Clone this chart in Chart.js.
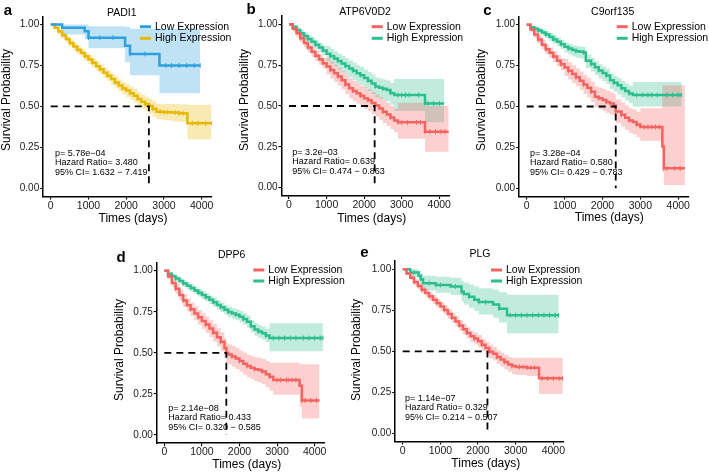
<!DOCTYPE html>
<html><head><meta charset="utf-8">
<script src="https://cdn.jsdelivr.net/npm/chart.js@4.4.0/dist/chart.umd.min.js"></script>
<style>
html,body{margin:0;padding:0;background:#fff;}
#wrap{position:relative;width:709px;height:473px;overflow:hidden;background:#fff;}
#wrap canvas{position:absolute;left:0;top:0;}
</style></head><body><div id="wrap"></div>
<script>
// ---------- tick labels / text ----------
const xTicks = [0, 1000, 2000, 3000, 4000];
const yTicks = [0, 0.25, 0.5, 0.75, 1.0];
const seriesNames = ['Low Expression', 'High Expression'];
const genes = ['PADI1', 'ATP6V0D2', 'C9orf135', 'DPP6', 'PLG'];
const letters = ['a', 'b', 'c', 'd', 'e'];
const pValues = ['5.78e\u221204', '3.2e\u221203', '3.28e\u221204', '2.14e\u221208', '1.14e\u221207'];
const hazardRatios = ['3.480', '0.639', '0.580', '0.433', '0.329'];
const ciTexts = ['1.632 \u2212 7.419', '0.474 \u2212 0.863', '0.429 \u2212 0.783', '0.320 \u2212 0.585', '0.214 \u2212 0.507'];
const medians = [2600, 2280, 2350, 1650, 2250];

// ---------- panel a: PADI1 ----------
const aLowT  = [0, 300, 900, 1000, 1970, 2100, 2880, 3960];
const aLowS  = [1.0, 0.98, 0.96, 0.92, 0.87, 0.82, 0.75, 0.75];
const aLowU  = [1.0, 1.0, 1.0, 0.99, 0.985, 0.975, 0.975, 0.975];
const aLowLo = [1.0, 0.94, 0.91, 0.855, 0.77, 0.69, 0.58, 0.58];
const aLowCenT = [1300, 1650, 2500, 3050, 3200, 3400, 3600, 3800];
const aLowCenS = [0.92, 0.92, 0.82, 0.75, 0.75, 0.75, 0.75, 0.75];
const aHighT  = [0,100,200,300,400,500,600,700,800,900,1000,1100,1200,1300,1400,1500,1600,1700,1800,1900,2000,2100,2200,2300,2400,2500,2600,2700,2800,3000,3200,3400,3620,4260];
const aHighS  = [1.0,0.98,0.957,0.935,0.912,0.888,0.866,0.846,0.826,0.806,0.787,0.767,0.746,0.727,0.705,0.688,0.667,0.646,0.628,0.61,0.597,0.58,0.565,0.545,0.528,0.515,0.503,0.485,0.468,0.465,0.462,0.458,0.397,0.397];
const aHighU  = [1.0,0.99,0.972,0.953,0.932,0.91,0.89,0.871,0.852,0.833,0.815,0.796,0.776,0.758,0.737,0.721,0.701,0.681,0.664,0.647,0.636,0.62,0.606,0.587,0.571,0.559,0.549,0.532,0.516,0.515,0.514,0.513,0.51,0.51];
const aHighLo = [1.0,0.97,0.942,0.917,0.892,0.866,0.842,0.821,0.8,0.779,0.759,0.738,0.716,0.696,0.673,0.655,0.633,0.611,0.592,0.573,0.558,0.54,0.524,0.503,0.485,0.471,0.457,0.438,0.42,0.415,0.41,0.405,0.30,0.30];
const aHighCenT = [2900, 3100, 3300, 3500, 3750, 3900, 4100];
const aHighCenS = [0.468, 0.465, 0.462, 0.458, 0.397, 0.397, 0.397];

// ---------- panel b: ATP6V0D2 ----------
const bLowT  = [0,100,200,300,400,500,600,700,800,900,1000,1100,1200,1300,1400,1500,1600,1700,1800,1900,2000,2100,2200,2300,2400,2500,2600,2700,2800,2900,3300,3620,4250];
const bLowS  = [1.0,0.972,0.945,0.915,0.885,0.858,0.832,0.808,0.785,0.762,0.742,0.72,0.70,0.68,0.657,0.632,0.608,0.592,0.578,0.562,0.548,0.535,0.518,0.503,0.485,0.465,0.448,0.43,0.412,0.40,0.40,0.343,0.343];
const bLowU  = [1.0,0.99,0.968,0.94,0.912,0.887,0.862,0.839,0.817,0.795,0.792,0.772,0.753,0.734,0.713,0.69,0.668,0.653,0.64,0.626,0.613,0.601,0.585,0.571,0.554,0.535,0.518,0.50,0.483,0.52,0.52,0.50,0.50];
const bLowLo = [1.0,0.955,0.922,0.89,0.858,0.829,0.802,0.777,0.753,0.729,0.692,0.668,0.647,0.626,0.601,0.574,0.548,0.531,0.516,0.498,0.483,0.469,0.451,0.435,0.416,0.395,0.378,0.36,0.341,0.30,0.30,0.22,0.22];
const bLowCenT = [3000, 3150, 3400, 3500, 3750, 3900, 4050, 4150];
const bLowCenS = [0.40, 0.40, 0.40, 0.40, 0.343, 0.343, 0.343, 0.343];
const bHighT  = [0,100,200,300,400,500,600,700,800,900,1000,1100,1200,1300,1400,1500,1600,1700,1800,1900,2000,2100,2200,2300,2400,2500,2600,2700,2800,3000,3300,3620,4130];
const bHighS  = [1.0,0.985,0.965,0.945,0.928,0.91,0.893,0.875,0.858,0.84,0.82,0.806,0.79,0.775,0.76,0.745,0.73,0.715,0.7,0.688,0.672,0.655,0.638,0.62,0.612,0.605,0.598,0.58,0.567,0.567,0.567,0.516,0.516];
const bHighU  = [1.0,0.995,0.982,0.965,0.95,0.934,0.92,0.903,0.887,0.87,0.865,0.851,0.835,0.82,0.806,0.792,0.778,0.764,0.75,0.739,0.724,0.708,0.692,0.675,0.668,0.662,0.656,0.64,0.665,0.665,0.665,0.665,0.665];
const bHighLo = [1.0,0.975,0.948,0.925,0.906,0.886,0.866,0.847,0.829,0.81,0.775,0.759,0.741,0.724,0.708,0.691,0.675,0.658,0.642,0.628,0.61,0.592,0.573,0.553,0.544,0.535,0.527,0.508,0.47,0.47,0.47,0.40,0.40];
const bHighCenT = [2900, 3100, 3200, 3450, 3700, 3850, 4000];
const bHighCenS = [0.567, 0.567, 0.567, 0.567, 0.516, 0.516, 0.516];

// ---------- panel c: C9orf135 ----------
const cLowT  = [0,100,200,300,400,500,600,700,800,900,1000,1100,1200,1300,1400,1500,1600,1700,1800,1900,2000,2100,2200,2300,2350,2500,2600,2700,2800,2900,3000,3300,3580,3620,4175];
const cLowS  = [1.0,0.97,0.94,0.91,0.878,0.85,0.828,0.805,0.78,0.758,0.738,0.718,0.698,0.678,0.658,0.635,0.615,0.59,0.56,0.55,0.54,0.528,0.518,0.505,0.47,0.45,0.432,0.415,0.405,0.39,0.375,0.375,0.255,0.122,0.122];
const cLowU  = [1.0,0.985,0.962,0.935,0.906,0.88,0.86,0.838,0.815,0.795,0.79,0.771,0.752,0.733,0.714,0.693,0.675,0.652,0.624,0.615,0.607,0.596,0.587,0.576,0.543,0.524,0.507,0.49,0.481,0.468,0.49,0.49,0.63,0.63,0.63];
const cLowLo = [1.0,0.955,0.918,0.885,0.85,0.82,0.796,0.772,0.745,0.721,0.686,0.665,0.644,0.623,0.602,0.577,0.555,0.528,0.496,0.485,0.473,0.46,0.449,0.434,0.397,0.376,0.357,0.34,0.329,0.312,0.29,0.29,0.10,0.02,0.02];
const cLowCenT = [3100, 3200, 3400, 3500, 3700, 3900, 4050];
const cLowCenS = [0.375, 0.375, 0.375, 0.375, 0.122, 0.122, 0.122];
const cHighT  = [0,100,200,300,400,500,600,700,800,900,1000,1100,1200,1300,1400,1500,1560,1700,1800,1900,2000,2100,2200,2300,2400,2500,2600,2700,2800,3200,3600,4090];
const cHighS  = [1.0,0.985,0.975,0.965,0.952,0.94,0.925,0.91,0.895,0.88,0.865,0.855,0.845,0.838,0.835,0.83,0.78,0.76,0.74,0.72,0.705,0.69,0.66,0.645,0.63,0.612,0.595,0.58,0.57,0.57,0.57,0.57];
const cHighU  = [1.0,0.995,0.99,0.983,0.972,0.962,0.949,0.935,0.921,0.907,0.893,0.884,0.875,0.869,0.867,0.863,0.815,0.796,0.777,0.758,0.744,0.73,0.701,0.687,0.673,0.656,0.64,0.626,0.65,0.65,0.65,0.65];
const cHighLo = [1.0,0.975,0.96,0.947,0.932,0.918,0.901,0.885,0.869,0.853,0.83,0.818,0.806,0.798,0.794,0.788,0.736,0.714,0.692,0.671,0.655,0.638,0.607,0.59,0.574,0.555,0.537,0.521,0.50,0.50,0.50,0.50];
const cHighCenT = [2900, 3050, 3300, 3450, 3700, 3850, 4000];
const cHighCenS = [0.57, 0.57, 0.57, 0.57, 0.57, 0.57, 0.57];

// ---------- panel d: DPP6 ----------
const dLowT  = [0,100,200,300,400,500,600,700,800,900,1000,1100,1200,1300,1400,1500,1600,1650,1700,1800,1900,2000,2100,2200,2300,2400,2500,2600,2700,2800,2900,3300,3600,3660,4130];
const dLowS  = [1.0,0.965,0.925,0.89,0.852,0.818,0.79,0.765,0.74,0.716,0.694,0.672,0.648,0.622,0.595,0.568,0.53,0.50,0.49,0.478,0.465,0.45,0.433,0.42,0.41,0.40,0.395,0.386,0.37,0.355,0.335,0.335,0.30,0.21,0.21];
const dLowU  = [1.0,0.98,0.95,0.92,0.886,0.855,0.829,0.806,0.783,0.761,0.741,0.721,0.699,0.675,0.65,0.625,0.589,0.56,0.551,0.541,0.529,0.515,0.5,0.489,0.481,0.473,0.47,0.463,0.45,0.44,0.44,0.44,0.43,0.43,0.43];
const dLowLo = [1.0,0.948,0.9,0.86,0.818,0.781,0.751,0.724,0.697,0.671,0.647,0.623,0.597,0.569,0.54,0.511,0.471,0.44,0.429,0.415,0.401,0.385,0.366,0.351,0.339,0.327,0.32,0.309,0.29,0.27,0.245,0.245,0.17,0.10,0.10];
const dLowCenT = [3000, 3100, 3250, 3400, 3500, 3750, 3900, 4050];
const dLowCenS = [0.335, 0.335, 0.335, 0.335, 0.335, 0.21, 0.21, 0.21];
const dHighT  = [0,100,200,300,400,500,600,700,800,900,1000,1100,1200,1300,1400,1500,1600,1700,1800,1900,2000,2100,2200,2300,2400,2500,2600,2700,2800,3200,3600,4220];
const dHighS  = [1.0,0.982,0.966,0.952,0.937,0.922,0.908,0.895,0.88,0.866,0.852,0.838,0.823,0.808,0.792,0.778,0.762,0.748,0.74,0.732,0.72,0.706,0.69,0.662,0.642,0.63,0.62,0.605,0.59,0.59,0.59,0.59];
const dHighU  = [1.0,0.992,0.98,0.968,0.955,0.941,0.928,0.916,0.902,0.889,0.876,0.863,0.849,0.835,0.82,0.807,0.792,0.779,0.772,0.765,0.754,0.741,0.726,0.699,0.68,0.669,0.66,0.646,0.68,0.68,0.68,0.68];
const dHighLo = [1.0,0.972,0.952,0.936,0.919,0.903,0.888,0.874,0.858,0.843,0.828,0.813,0.797,0.781,0.764,0.749,0.732,0.717,0.708,0.699,0.686,0.671,0.654,0.625,0.604,0.591,0.58,0.564,0.51,0.51,0.51,0.51];
const dHighCenT = [2900, 3050, 3200, 3350, 3500, 3700, 3850, 4000, 4150];
const dHighCenS = [0.59, 0.59, 0.59, 0.59, 0.59, 0.59, 0.59, 0.59, 0.59];

// ---------- panel e: PLG ----------
const eLowT  = [0,100,200,300,400,500,600,700,800,900,1000,1100,1200,1300,1400,1500,1600,1700,1800,1900,2000,2100,2200,2300,2400,2500,2600,2700,2800,2900,3000,3300,3620,4250];
const eLowS  = [1.0,0.975,0.948,0.922,0.898,0.875,0.855,0.835,0.815,0.795,0.773,0.752,0.728,0.705,0.682,0.658,0.635,0.612,0.592,0.578,0.562,0.54,0.52,0.498,0.485,0.465,0.45,0.435,0.42,0.41,0.405,0.40,0.335,0.335];
const eLowU  = [1.0,0.985,0.962,0.94,0.918,0.897,0.878,0.859,0.84,0.821,0.8,0.78,0.757,0.735,0.713,0.69,0.668,0.646,0.627,0.614,0.599,0.578,0.559,0.542,0.526,0.507,0.493,0.479,0.465,0.46,0.46,0.46,0.46,0.46];
const eLowLo = [1.0,0.963,0.933,0.904,0.878,0.853,0.832,0.811,0.79,0.769,0.746,0.724,0.699,0.675,0.651,0.626,0.602,0.578,0.557,0.542,0.525,0.502,0.481,0.458,0.444,0.423,0.407,0.391,0.375,0.36,0.355,0.35,0.24,0.24];
const eLowCenT = [3100, 3200, 3400, 3500, 3700, 3850, 4000, 4150];
const eLowCenS = [0.405, 0.405, 0.40, 0.40, 0.335, 0.335, 0.335, 0.335];
const eHighT  = [0, 200, 420, 480, 540, 880, 1270, 1560, 1620, 1760, 1900, 2020, 2400, 2560, 2770, 4140];
const eHighS  = [1.0, 0.98, 0.96, 0.94, 0.915, 0.905, 0.895, 0.865, 0.85, 0.833, 0.815, 0.80, 0.785, 0.76, 0.72, 0.72];
const eHighU  = [1.0, 1.0, 0.99, 0.975, 0.96, 0.955, 0.948, 0.93, 0.92, 0.908, 0.895, 0.885, 0.875, 0.86, 0.845, 0.845];
const eHighLo = [1.0, 0.955, 0.93, 0.905, 0.87, 0.857, 0.843, 0.805, 0.785, 0.765, 0.745, 0.725, 0.705, 0.675, 0.61, 0.61];
const eHighCenT = [300, 700, 1000, 1400, 2200, 2850, 3000, 3150, 3300, 3450, 3600, 3750, 3900, 4050];
const eHighCenS = [0.98, 0.915, 0.905, 0.895, 0.80, 0.72, 0.72, 0.72, 0.72, 0.72, 0.72, 0.72, 0.72, 0.72];

// ---------- assembly ----------
const FF = '"Liberation Sans", Arial, Helvetica, sans-serif';
const BLUE = '#2E9FDF', GOLD = '#E7B800', RED = '#F3635F', GREEN = '#2DBE8F';

const curves = [
  {low:[aLowT,aLowS,aLowU,aLowLo,aLowCenT,aLowCenS], high:[aHighT,aHighS,aHighU,aHighLo,aHighCenT,aHighCenS], cl:BLUE, ch:GOLD},
  {low:[bLowT,bLowS,bLowU,bLowLo,bLowCenT,bLowCenS], high:[bHighT,bHighS,bHighU,bHighLo,bHighCenT,bHighCenS], cl:RED, ch:GREEN},
  {low:[cLowT,cLowS,cLowU,cLowLo,cLowCenT,cLowCenS], high:[cHighT,cHighS,cHighU,cHighLo,cHighCenT,cHighCenS], cl:RED, ch:GREEN},
  {low:[dLowT,dLowS,dLowU,dLowLo,dLowCenT,dLowCenS], high:[dHighT,dHighS,dHighU,dHighLo,dHighCenT,dHighCenS], cl:RED, ch:GREEN},
  {low:[eLowT,eLowS,eLowU,eLowLo,eLowCenT,eLowCenS], high:[eHighT,eHighS,eHighU,eHighLo,eHighCenT,eHighCenS], cl:RED, ch:GREEN}
];

// layout (page pixel positions)
const layoutCfg = [
  {L:43.2, R:211.9, T:16.4, B:196.4, letter:[8,11], title:[121.7,12.7], yl:[7,100], xl:[133,219], leg:[140,26.7,38.3], ann:[55,153.3,9.4]},
  {L:281.5, R:449.4, T:16.1, B:195.9, letter:[251,10], title:[365,11.7], yl:[245,100], xl:[371.7,218.3], leg:[371.7,26.7,38.3], ann:[292.3,152.3,9.7]},
  {L:519.1, R:688.5, T:16.5, B:196.5, letter:[487.3,11], title:[612.7,11.7], yl:[481.7,100], xl:[609.2,218], leg:[616.7,26.7,38.3], ann:[530,153.3,9.7]},
  {L:156.8, R:324.8, T:262.5, B:443.2, letter:[121,257.5], title:[231.7,255], yl:[120,350], xl:[246.7,465], leg:[253.3,270,281], ann:[168.3,408.3,9.4]},
  {L:395.2, R:563.5, T:261.1, B:441.5, letter:[364.5,253], title:[480,254], yl:[357,350], xl:[485.8,463.3], leg:[491,270,281], ann:[405,398.3,9.4]}
];

function pts(t, v) { return t.map((x, i) => ({x: x, y: v[i]})); }
function rgba(hex, a) {
  const n = parseInt(hex.slice(1), 16);
  return 'rgba(' + ((n >> 16) & 255) + ',' + ((n >> 8) & 255) + ',' + (n & 255) + ',' + a + ')';
}
const NONE = 'rgba(0,0,0,0)';

function textPlugin(i) {
  const P = layoutCfg[i], C = curves[i];
  return {
    id: 'panelText' + i,
    afterDraw(chart) {
      const c = chart.ctx;
      c.save();
      c.fillStyle = '#000';
      c.textBaseline = 'middle';
      c.font = 'bold 15px ' + FF; c.textAlign = 'center';
      c.fillText(letters[i], P.letter[0], P.letter[1]);
      c.font = '10.5px ' + FF;
      c.fillText(genes[i], P.title[0], P.title[1]);
      c.font = '12px ' + FF;
      c.fillText('Times (days)', P.xl[0], P.xl[1]);
      c.save(); c.translate(P.yl[0], P.yl[1]); c.rotate(-Math.PI / 2);
      c.fillText('Survival Probability', 0, 0); c.restore();
      c.font = '10.5px ' + FF; c.textAlign = 'left';
      [C.cl, C.ch].forEach((col, j) => {
        const y = P.leg[1 + j];
        c.strokeStyle = col; c.lineWidth = 3; c.beginPath();
        c.moveTo(P.leg[0], y); c.lineTo(P.leg[0] + 11, y); c.stroke();
        c.fillStyle = '#000';
        c.fillText(seriesNames[j], P.leg[0] + 15, y);
      });
      c.font = '9px ' + FF;
      const lines = ['p= ' + pValues[i], 'Hazard Ratio= ' + hazardRatios[i], '95% CI= ' + ciTexts[i]];
      lines.forEach((s, k) => c.fillText(s, P.ann[0], P.ann[1] + k * P.ann[2]));
      c.restore();
    }
  };
}

const wrap = document.getElementById('wrap');
layoutCfg.forEach((P, i) => {
  const cv = document.createElement('canvas');
  cv.width = 709; cv.height = 473;
  cv.style.width = '709px'; cv.style.height = '473px';
  wrap.appendChild(cv);
  const C = curves[i];
  const lineDs = (arr, col) => ({data: pts(arr[0], arr[1]), borderColor: col, borderWidth: 2.5, stepped: true,
      pointStyle: 'line', rotation: 90, pointBorderWidth: 1, pointBorderColor: col,
      pointRadius: ctx => (ctx.dataIndex > 2 && ctx.dataIndex % 2 === 1) ? 2.3 : 0, fill: false, order: 1});
  const censDs = (arr, col) => ({type: 'scatter', data: pts(arr[4], arr[5]), pointStyle: 'line', rotation: 90,
      pointRadius: 2.5, pointBorderWidth: 1, borderColor: col, backgroundColor: col, showLine: false, order: 1});
  const bandU = (arr, col) => ({data: pts(arr[0], arr[2]), borderColor: NONE, borderWidth: 0, stepped: true, pointRadius: 0, fill: '+1', backgroundColor: rgba(col, 0.3), order: 5});
  const bandL = (arr) => ({data: pts(arr[0], arr[3]), borderColor: NONE, borderWidth: 0, stepped: true, pointRadius: 0, fill: false, order: 5});
  const med = medians[i];
  new Chart(cv, {
    type: 'line',
    data: {datasets: [
      bandU(C.low, C.cl), bandL(C.low),
      bandU(C.high, C.ch), bandL(C.high),
      lineDs(C.low, C.cl), lineDs(C.high, C.ch),
      censDs(C.low, C.cl), censDs(C.high, C.ch),
      {data: [{x: 0, y: 0.5}, {x: med, y: 0.5}, {x: med, y: 0}], borderColor: '#000', borderWidth: 1.8, borderDash: [7, 5], pointRadius: 0, fill: false, order: 0}
    ]},
    options: {
      responsive: false, animation: false, devicePixelRatio: 1,
      layout: {padding: {left: P.L - 40, right: 709 - P.R, top: P.T, bottom: 473 - P.B - 20}},
      plugins: {legend: {display: false}, tooltip: {enabled: false}, title: {display: false}},
      scales: {
        x: {type: 'linear', min: -200, max: 4270,
            afterBuildTicks: s => { s.ticks = xTicks.map(v => ({value: v})); },
            afterFit: s => { s.height = 20; },
            ticks: {font: {size: 10.5, family: FF}, color: '#1a1a1a', padding: 0, maxRotation: 0, autoSkip: false, callback: v => String(v)},
            grid: {display: true, drawOnChartArea: false, drawTicks: true, tickLength: 3, color: '#000', lineWidth: 1.1},
            border: {display: true, color: '#000', width: 1.5}},
        y: {type: 'linear', min: -0.05, max: 1.05,
            afterBuildTicks: s => { s.ticks = yTicks.map(v => ({value: v})); },
            afterFit: s => { s.width = 40; },
            ticks: {font: {size: 10, family: FF}, color: '#1a1a1a', padding: 1, autoSkip: false, callback: v => Number(v).toFixed(2)},
            grid: {display: true, drawOnChartArea: false, drawTicks: true, tickLength: 3, color: '#000', lineWidth: 1.1},
            border: {display: true, color: '#000', width: 1.5}}
      }
    },
    plugins: [textPlugin(i)]
  });
});
</script></body></html>
